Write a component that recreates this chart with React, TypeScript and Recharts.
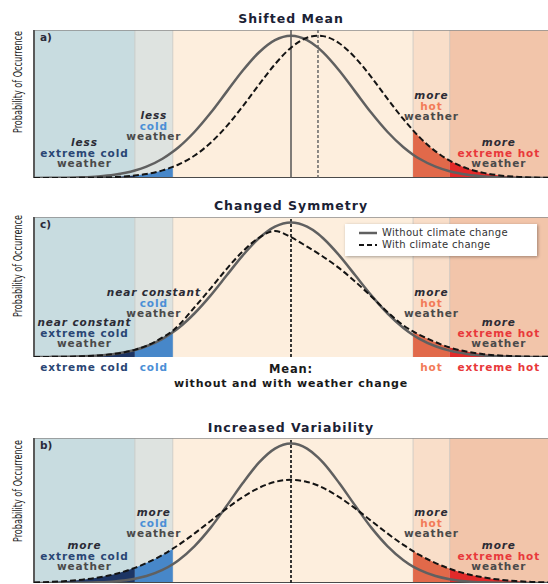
import React from 'react';
import {
  ComposedChart,
  Line,
  Area,
  XAxis,
  YAxis,
  ReferenceArea,
  ReferenceLine,
  Legend,
} from 'recharts';

// x in units of the present-day standard deviation, 0 = present-day mean
const xs = [-4, -3.75, -3.5, -3.25, -3, -2.75, -2.43, -2.25, -2, -1.84, -1.75, -1.5, -1.25, -1, -0.75, -0.5, -0.25, 0, 0.25, 0.42, 0.5, 0.75, 1, 1.25, 1.5, 1.75, 1.9, 2, 2.25, 2.47, 2.75, 3, 3.25, 3.5, 3.75, 4];

// probability of occurrence (present-day peak = 100)
const presentSolid = [0.03, 0.09, 0.22, 0.51, 1.11, 2.28, 5.22, 7.96, 13.5, 18.4, 21.6, 32.5, 45.8, 60.7, 75.5, 88.2, 96.9, 100, 96.9, 91.6, 88.2, 75.5, 60.7, 45.8, 32.5, 21.6, 16.4, 13.5, 7.96, 4.73, 2.28, 1.11, 0.51, 0.22, 0.09, 0.03];
const shiftedDashed = [0.01, 0.02, 0.05, 0.12, 0.29, 0.66, 1.72, 2.83, 5.35, 7.78, 9.5, 15.8, 24.8, 36.5, 50.4, 65.5, 79.9, 91.6, 98.6, 100, 99.7, 94.7, 84.5, 70.9, 55.8, 41.3, 33.5, 28.7, 18.7, 12.2, 6.62, 3.59, 1.82, 0.87, 0.39, 0.16];
const skewedDashed = [0.03, 0.09, 0.22, 0.5, 1.1, 2.3, 5.3, 8.3, 14.5, 19.5, 23.5, 37, 51, 65.5, 78.5, 88.5, 93.6, 89, 82, 77, 74.5, 66, 56, 45, 33.5, 23.5, 19, 16.5, 11, 7, 3.9, 2.1, 1.1, 0.55, 0.25, 0.1];
const narrowSolid = [0.01, 0.03, 0.07, 0.2, 0.49, 1.15, 3.06, 5.02, 9.41, 13.5, 16.4, 26.5, 39.7, 55.4, 71.7, 86.3, 96.4, 100, 96.4, 90.1, 86.3, 71.7, 55.4, 39.7, 26.5, 16.4, 11.8, 9.41, 5.02, 2.72, 1.15, 0.49, 0.2, 0.07, 0.03, 0.01];
const wideDashed = [0.41, 0.76, 1.38, 2.39, 3.97, 6.3, 10.85, 14.3, 20.1, 24.6, 27.3, 35.6, 44.5, 53.5, 61.6, 68.2, 72.5, 74, 72.5, 69.9, 68.2, 61.6, 53.5, 44.5, 35.6, 27.3, 22.9, 20.1, 14.3, 10.2, 6.3, 3.97, 2.39, 1.38, 0.76, 0.41];

const bandEdges = [-4, -2.43, -1.84, 1.9, 2.47, 4];
const bandNames = ['extreme cold', 'cold', 'normal', 'hot', 'extreme hot'];
const bandColors = ['#c8dce0', '#dee3e0', '#fdeedd', '#f9dec9', '#f2c5aa'];
const tailColors = ['#1d3564', '#4787c9', '', '#e1694a', '#e12a2a'];
const labelColors = ['#2a4674', '#4b8fd6', '', '#f27b58', '#e8383a'];
const seriesNames = ['Without climate change', 'With climate change'];

const W = 548;
const H = 584;
const PLOT_LEFT = 34;
const Y_MAX = 104;
const FONT = "'DejaVu Sans', Verdana, sans-serif";

const panels = [
  { id: 'a', title: 'Shifted Mean', top: 30, plotHeight: 148, solid: presentSolid, dashed: shiftedDashed, means: [0, 0.42], words: ['less', 'less', '', 'more', 'more'], wordTop: [146, 119, 0, 99, 146], titleY: 23, labelY: 82 },
  { id: 'c', title: 'Changed Symmetry', top: 217, plotHeight: 140, solid: presentSolid, dashed: skewedDashed, means: [0], words: ['near constant', 'near constant', '', 'more', 'more'], wordTop: [326, 296, 0, 296, 326], titleY: 210, labelY: 266 },
  { id: 'b', title: 'Increased Variability', top: 438, plotHeight: 145, solid: narrowSolid, dashed: wideDashed, means: [0], words: ['more', 'more', '', 'more', 'more'], wordTop: [549, 516, 0, 516, 549], titleY: 432, labelY: 491 },
];

const tailBands = [0, 1, 3, 4];
const bandCenter = (i: number) => (bandEdges[i] + bandEdges[i + 1]) / 2;
const toPx = (v: number) => PLOT_LEFT + ((v + 4) / 8) * (W - PLOT_LEFT);
const nameTicks = [bandCenter(0), bandCenter(1), 0, bandCenter(3), bandCenter(4)];

function NameTick(props: any) {
  const { x, y, payload } = props;
  if (payload.value === 0) {
    return (
      <g fontFamily={FONT} fontWeight="bold" fill="#1a1a1a">
        <text x={x} y={y + 16} textAnchor="middle" fontSize={11.5} letterSpacing={0.8}>Mean:</text>
        <text x={x} y={y + 30} textAnchor="middle" fontSize={11} letterSpacing={0.8}>without and with weather change</text>
      </g>
    );
  }
  const i = bandEdges.findIndex((e, k) => k < 5 && Math.abs(bandCenter(k) - payload.value) < 1e-6);
  return (
    <text x={x} y={y + 14} textAnchor="middle" fontFamily={FONT} fontWeight="bold" fontSize={10.5} letterSpacing={0.9} fill={labelColors[i]}>
      {bandNames[i]}
    </text>
  );
}

function LegendBox(props: any) {
  const payload = props.payload || [];
  return (
    <div style={{ background: '#fff', boxShadow: '1px 1px 3px rgba(0,0,0,0.35)', width: 192, height: 32, boxSizing: 'border-box', padding: '3px 0 0 14px', fontFamily: FONT, fontSize: 10, color: '#333' }}>
      {seriesNames.map((n, k) => {
        const item = payload.find((p: any) => p.value === n);
        const color = item?.color || (k === 0 ? '#606060' : '#141414');
        return (
          <div key={n} style={{ display: 'flex', alignItems: 'center', height: 12 }}>
            <svg width={23} height={6}>
              <line x1={0} x2={18} y1={3} y2={3} stroke={color} strokeWidth={k === 0 ? 2.5 : 2} strokeDasharray={k === 0 ? undefined : '5 3'} />
            </svg>
            <span style={{ letterSpacing: 0.3, lineHeight: '12px' }}>{n}</span>
          </div>
        );
      })}
    </div>
  );
}

function Panel({ p }: any) {
  const rows = xs.map((x, i) => ({ x, solid: p.solid[i], dashed: p.dashed[i] }));
  const withAxis = p.id === 'c';
  return (
    <div style={{ position: 'absolute', left: 0, top: p.top }}>
      <ComposedChart width={W} height={p.plotHeight + (withAxis ? 36 : 0)} data={rows} margin={{ top: 0, right: 0, bottom: 0, left: PLOT_LEFT }}>
        <XAxis
          type="number"
          dataKey="x"
          domain={[-4, 4]}
          allowDataOverflow
          hide={!withAxis}
          height={0}
          ticks={bandEdges.slice(1, 5)}
          interval={0}
          tick={false}
          tickSize={6}
          axisLine={{ stroke: '#4a4a4a', strokeWidth: 2 }}
          tickLine={{ stroke: '#777', strokeWidth: 1 }}
        />
        {withAxis && (
          <XAxis
            xAxisId="names"
            type="number"
            dataKey="x"
            domain={[-4, 4]}
            allowDataOverflow
            height={36}
            ticks={nameTicks}
            interval={0}
            tick={<NameTick />}
            tickSize={0}
            tickMargin={0}
            axisLine={false}
            tickLine={false}
          />
        )}
        <YAxis type="number" domain={[0, Y_MAX]} allowDataOverflow hide />
        {bandColors.map((c, i) => (
          <ReferenceArea key={i} x1={bandEdges[i]} x2={bandEdges[i + 1]} fill={c} fillOpacity={1} stroke="none" zIndex={-50} />
        ))}
        {bandEdges.slice(1, 5).map((e) => (
          <ReferenceLine key={e} x={e} stroke="#c2c2bd" strokeOpacity={0.7} strokeWidth={1} zIndex={-40} />
        ))}
        {tailBands.map((i) => (
          <Area
            key={i}
            type="monotone"
            dataKey={(d: any) => (d.x >= bandEdges[i] && d.x <= bandEdges[i + 1] ? d.dashed : null)}
            stroke="none"
            fill={tailColors[i]}
            fillOpacity={1}
            dot={false}
            activeDot={false}
            legendType="none"
            connectNulls={false}
            isAnimationActive={false}
          />
        ))}
        <ReferenceLine y={Y_MAX} stroke="#8c8c8c" strokeWidth={1.5} />
        <ReferenceLine x={-4} stroke="#5a5a5a" strokeWidth={2} />
        {!withAxis && <ReferenceLine y={0} stroke="#4a4a4a" strokeWidth={2} />}
        {p.means.map((m: number, k: number) => (
          <ReferenceLine
            key={m}
            x={m}
            stroke={p.id === 'a' ? (k === 0 ? '#555' : '#666') : '#222'}
            strokeWidth={p.id === 'a' ? 1.5 : 1.8}
            strokeDasharray={p.id === 'a' && k === 0 ? undefined : '3 2'}
          />
        ))}
        <Line type="monotone" dataKey="solid" name={seriesNames[0]} stroke="#606060" strokeWidth={2.5} dot={false} activeDot={false} isAnimationActive={false} />
        <Line type="monotone" dataKey="dashed" name={seriesNames[1]} stroke="#141414" strokeWidth={2} strokeDasharray="6 3" dot={false} activeDot={false} isAnimationActive={false} />
        {withAxis && (
          <Legend
            layout="horizontal"
            verticalAlign="middle"
            align="center"
            content={<LegendBox />}
            wrapperStyle={{ left: 345, top: 7, width: 192, height: 32 }}
          />
        )}
      </ComposedChart>
    </div>
  );
}

function Annotations() {
  return (
    <svg width={W} height={H} style={{ position: 'absolute', left: 0, top: 0, pointerEvents: 'none' }} fontFamily={FONT}>
      {panels.map((p) => (
        <g key={p.id}>
          <text x={291} y={p.titleY} textAnchor="middle" fontSize={12.5} fontWeight="bold" letterSpacing={1} fill="#1b2235">
            {p.title}
          </text>
          <text
            transform={`translate(18 ${p.labelY}) rotate(-90)`}
            textAnchor="middle"
            dominantBaseline="central"
            fontFamily="'Liberation Sans Narrow', 'DejaVu Sans Condensed', sans-serif"
            fontSize={11.5}
            textLength={102}
            lengthAdjust="spacingAndGlyphs"
            fill="#222"
          >
            Probability of Occurrence
          </text>
          <text x={40} y={p.top + 11} fontSize={10.5} fontWeight="bold" fill="#2a2a3a">
            {p.id})
          </text>
          {tailBands.map((i) => {
            const cx = toPx(bandCenter(i));
            const y0 = p.wordTop[i];
            return (
              <g key={i} textAnchor="middle" fontSize={10.5} fontWeight="bold" letterSpacing={0.9}>
                <text x={cx} y={y0} fontStyle="italic" fill="#2b2b35">{p.words[i]}</text>
                <text x={cx} y={y0 + 10.5} fill={labelColors[i]}>{bandNames[i]}</text>
                <text x={cx} y={y0 + 21} fill="#4a4a4a">weather</text>
              </g>
            );
          })}
        </g>
      ))}
    </svg>
  );
}

export default function App() {
  return (
    <div style={{ position: 'absolute', left: 0, top: 0, width: W, height: H, background: '#fff', overflow: 'hidden' }}>
      {panels.map((p) => (
        <Panel key={p.id} p={p} />
      ))}
      <Annotations />
    </div>
  );
}
